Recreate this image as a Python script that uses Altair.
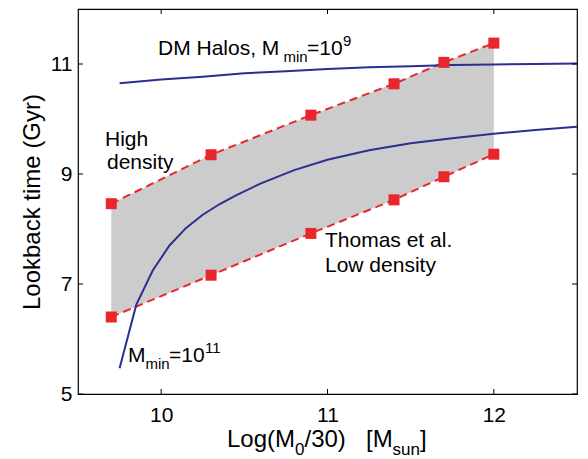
import altair as alt
import pandas as pd

# Thomas et al. formation epochs (log mass vs lookback time)
mass_pts = [9.7, 10.3, 10.9, 11.4, 11.7, 12.0]
high_density = [8.46, 9.35, 10.07, 10.64, 11.03, 11.38]
low_density = [6.40, 7.16, 7.92, 8.53, 8.95, 9.36]

# DM halo assembly curves
halo9_x = [9.75, 10.0, 10.25, 10.5, 10.75, 11.0, 11.25, 11.5, 11.75, 12.0, 12.25, 12.5]
halo9_t = [10.65, 10.72, 10.77, 10.83, 10.87, 10.91, 10.94, 10.96, 10.98, 10.99, 11.00, 11.01]
halo11_x = [9.75, 9.85, 9.95, 10.05, 10.15, 10.25, 10.35, 10.45, 10.6, 10.8, 11.0, 11.25, 11.5, 11.75, 12.0, 12.25, 12.5]
halo11_t = [5.47, 6.62, 7.25, 7.70, 8.02, 8.26, 8.45, 8.61, 8.83, 9.07, 9.26, 9.43, 9.56, 9.65, 9.73, 9.80, 9.86]

x_ticks = [10, 11, 12]
y_ticks = [5, 7, 9, 11]

W, H = 499, 385
FONT = "Liberation Sans"
RED = "#e8262b"
BLUE = "#2b2f8f"
GREY = "#cccccc"

xscale = alt.Scale(domain=[9.5, 12.5], nice=False, zero=False)
yscale = alt.Scale(domain=[5, 12], nice=False, zero=False)
xaxis = alt.Axis(values=x_ticks, title=None, ticks=False, domain=False, grid=False,
                 labelFontSize=21, labelPadding=10, labelFont=FONT, labelColor="black")
yaxis = alt.Axis(values=y_ticks, title="Lookback time (Gyr)", ticks=False, domain=False, grid=False,
                 labelFontSize=21, labelPadding=6, labelFont=FONT, labelColor="black",
                 titleFontSize=24, titleFont=FONT, titleFontWeight="normal", titleColor="black",
                 titlePadding=6)


def X(field):
    return alt.X(f"{field}:Q", scale=xscale, axis=xaxis)


def Y(field):
    return alt.Y(f"{field}:Q", scale=yscale, axis=yaxis)


thomas = pd.DataFrame({"m": mass_pts, "high": high_density, "low": low_density})
thomas_long = pd.concat([
    pd.DataFrame({"m": mass_pts, "t": high_density, "env": "high"}),
    pd.DataFrame({"m": mass_pts, "t": low_density, "env": "low"}),
])
halos = pd.concat([
    pd.DataFrame({"m": halo9_x, "t": halo9_t, "mmin": "1e9"}),
    pd.DataFrame({"m": halo11_x, "t": halo11_t, "mmin": "1e11"}),
])

band = alt.Chart(thomas).mark_area(color=GREY, opacity=1).encode(
    x=X("m"), y=Y("low"), y2="high:Q")

dashed = alt.Chart(thomas_long).mark_line(color=RED, strokeWidth=2, strokeDash=[8, 5]).encode(
    x=X("m"), y=Y("t"), detail="env:N")

squares = alt.Chart(thomas_long).mark_point(shape="square", filled=True, color=RED,
                                            opacity=1, size=121).encode(
    x=X("m"), y=Y("t"))

curves = alt.Chart(halos).mark_line(color=BLUE, strokeWidth=2).encode(
    x=X("m"), y=Y("t"), detail="mmin:N")

# inward-pointing ticks on all four sides
xt = pd.DataFrame({"v": x_ticks})
yt = pd.DataFrame({"v": y_ticks})
tick_style = dict(color="black", strokeWidth=1)
ticks = [
    alt.Chart(xt).mark_rule(**tick_style).encode(x=X("v"), y=alt.value(H), y2=alt.value(H - 5)),
    alt.Chart(xt).mark_rule(**tick_style).encode(x=X("v"), y=alt.value(0), y2=alt.value(5)),
    alt.Chart(yt).mark_rule(**tick_style).encode(y=Y("v"), x=alt.value(0), x2=alt.value(5)),
    alt.Chart(yt).mark_rule(**tick_style).encode(y=Y("v"), x=alt.value(W), x2=alt.value(W - 5)),
]


def label(text, px, py, size=21):
    """Text piece placed by its left end and baseline, in page pixels."""
    return alt.Chart(pd.DataFrame({"s": [text]})).mark_text(
        align="left", baseline="alphabetic", font=FONT, fontSize=size, color="black"
    ).encode(text="s:N", x=alt.value(px - 78), y=alt.value(py - 9))


texts = [
    # DM Halos, M_min = 10^9
    label("DM Halos, M", 158, 55),
    label("min", 283.5, 62, 15),
    label("=10", 307, 55),
    label("9", 343, 46, 15),
    # M_min = 10^11
    label("M", 128, 362),
    label("min", 145.5, 369, 15),
    label("=10", 169, 362),
    label("11", 205, 353, 15),
    # density labels
    label("High", 105, 146),
    label("density", 107, 169),
    label("Thomas et al.", 325, 247),
    label("Low density", 325, 272),
    # x-axis title: Log(M_0/30)   [M_sun]
    label("Log(M", 227, 447, 24),
    label("0", 295, 455, 17),
    label("/30)", 304.5, 447, 24),
    label("[M", 366, 447, 24),
    label("sun", 392.5, 455, 17),
    label("]", 420, 447, 24),
]

chart = alt.layer(band, dashed, curves, squares, *ticks, *texts).properties(
    width=W, height=H,
    autosize=alt.AutoSizeParams(type="none"),
    padding={"left": 78, "top": 9, "right": 11, "bottom": 65},
    background="white",
).configure_view(stroke="black", strokeWidth=1.2)

chart.save("out.html", embed_options={"renderer": "svg", "actions": False})
